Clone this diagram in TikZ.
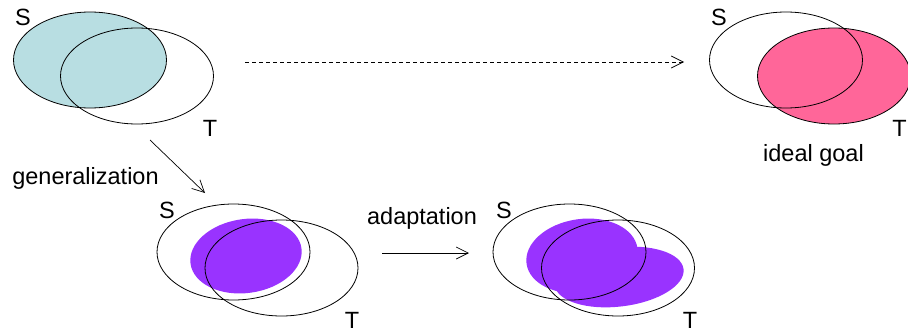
\documentclass[tikz,border=0pt]{standalone}
\usepackage{fontspec}
\setmainfont{Liberation Sans}
\usetikzlibrary{shapes.geometric,arrows.meta}
\definecolor{tealfill}{RGB}{184,222,226}
\definecolor{pinkfill}{RGB}{255,102,153}
\definecolor{purpfill}{RGB}{153,51,255}
\begin{document}
\begin{tikzpicture}[x=1pt,y=-1pt,
  setshape/.style={ellipse, line width=0.8pt, minimum width=153pt, minimum height=96pt, inner sep=0pt},
  lbl/.style={font=\fontsize{23.5}{26}\selectfont, inner sep=0pt},
  arr/.style={line width=0.7pt, -{Straight Barb[length=12pt,width=12pt]}}]
\useasboundingbox (0,0) rectangle (908,332);

% top-left
\node[setshape, draw, fill=tealfill] (s1) at (90,60) {};
\node[setshape, draw] (t1) at (137,76) {};
\node[lbl] (ls1) at (23,17) {S};
\node[lbl] (lt1) at (210,128) {T};

% top-right
\node[setshape, fill=pinkfill] (t2f) at (834,76) {};
\node[setshape, draw] (s2) at (786,60) {};
\node[setshape, draw] (t2) at (834,76) {};
\node[lbl] (ls2) at (719,17) {S};
\node[lbl] (lt2) at (899.5,128) {T};
\node[lbl] (goal) at (813.5,155) {ideal goal};

% bottom-left
\fill[purpfill, rotate around={8:(246,256)}] (246,256) ellipse [x radius=56, y radius=37];
\node[setshape, draw] (s3) at (233.5,252) {};
\node[setshape, draw] (t3) at (281.5,268) {};
\node[lbl] (ls3) at (167,210) {S};
\node[lbl] (lt3) at (352,320) {T};

% bottom-right
\fill[purpfill, rotate around={8:(582,256)}] (582,256) ellipse [x radius=56, y radius=37];
\fill[purpfill, rotate around={7:(619,277)}] (619,277) ellipse [x radius=65, y radius=29.5];
\node[setshape, draw] (s4) at (569.5,252) {};
\node[setshape, draw] (t4) at (618,268) {};
\node[lbl] (ls4) at (504,210) {S};
\node[lbl] (lt4) at (690,320) {T};

% arrows
\coordinate (d1) at (245,62);
\coordinate (d2) at (684,62);
\draw[arr, dash pattern=on 4pt off 3pt] (d1) -- (d2);

\coordinate (g1) at (150,140);
\coordinate (g2) at (205,193);
\draw[arr] (g1) -- (g2);
\node[lbl] (gen) at (85.5,178) {generalization};

\coordinate (a1) at (382,253);
\coordinate (a2) at (469,253);
\draw[arr] (a1) -- (a2);
\node[lbl] (adp) at (422,218) {adaptation};
\end{tikzpicture}
\end{document}
